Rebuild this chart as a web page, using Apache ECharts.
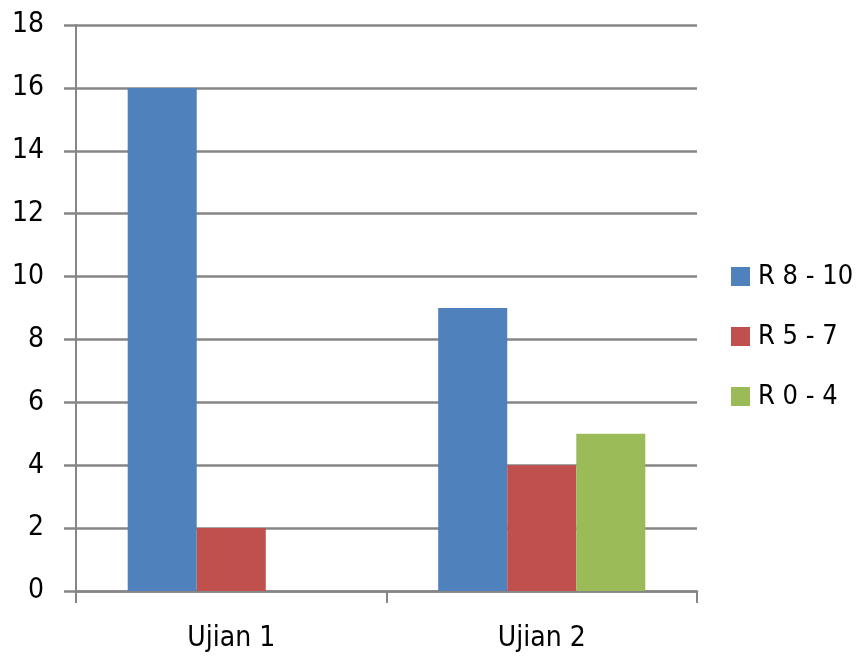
<!DOCTYPE html>
<html><head><meta charset="utf-8">
<script src="https://cdn.jsdelivr.net/npm/echarts@6/dist/echarts.min.js"></script>
<style>html,body{margin:0;padding:0;background:#fff}#c{width:858px;height:661px}</style>
</head><body><div id="c"></div>
<script>
const categories = ['Ujian 1', 'Ujian 2'];
const seriesNames = ['R 8 - 10', 'R 5 - 7', 'R 0 - 4'];
const r8to10 = [16, 9];
const r5to7 = [2, 4];
const r0to4 = [0, 5];
const colors = ['#4F81BD', '#C0504D', '#9BBB59'];
const font = '"Liberation Sans Narrow", "DejaVu Sans Condensed", "Liberation Sans", sans-serif';
const chart = echarts.init(document.getElementById('c'));
const values = [r8to10, r5to7, r0to4];
chart.setOption({
  animation: false,
  color: colors,
  grid: {left: 76, right: 161, top: 25, bottom: 70},
  legend: {
    orient: 'vertical', left: 731, top: 263, padding: 0,
    itemWidth: 19, itemHeight: 19, itemGap: 33, icon: 'rect',
    textStyle: {fontFamily: font, fontSize: 27, color: '#000', padding: [0,0,0,3]},
    data: seriesNames
  },
  xAxis: {
    type: 'category', data: categories,
    axisLine: {lineStyle: {color: '#868686', width: 2.5}},
    axisTick: {show: true, length: 12, lineStyle: {color: '#868686', width: 2}},
    axisLabel: {fontFamily: font, fontSize: 28, color: '#000', margin: 34}
  },
  yAxis: {
    type: 'value', min: 0, max: 18, interval: 2,
    axisLine: {show: true, lineStyle: {color: '#868686', width: 2}},
    axisTick: {show: true, length: 12, lineStyle: {color: '#868686', width: 2.5}},
    splitLine: {lineStyle: {color: '#868686', width: 2.5}},
    axisLabel: {fontFamily: font, fontSize: 28, color: '#000', margin: 32}
  },
  series: seriesNames.map((n, i) => ({
    name: n, type: 'bar', data: values[i],
    barGap: '0%', barCategoryGap: '33.3%'
  }))
});
</script></body></html>
